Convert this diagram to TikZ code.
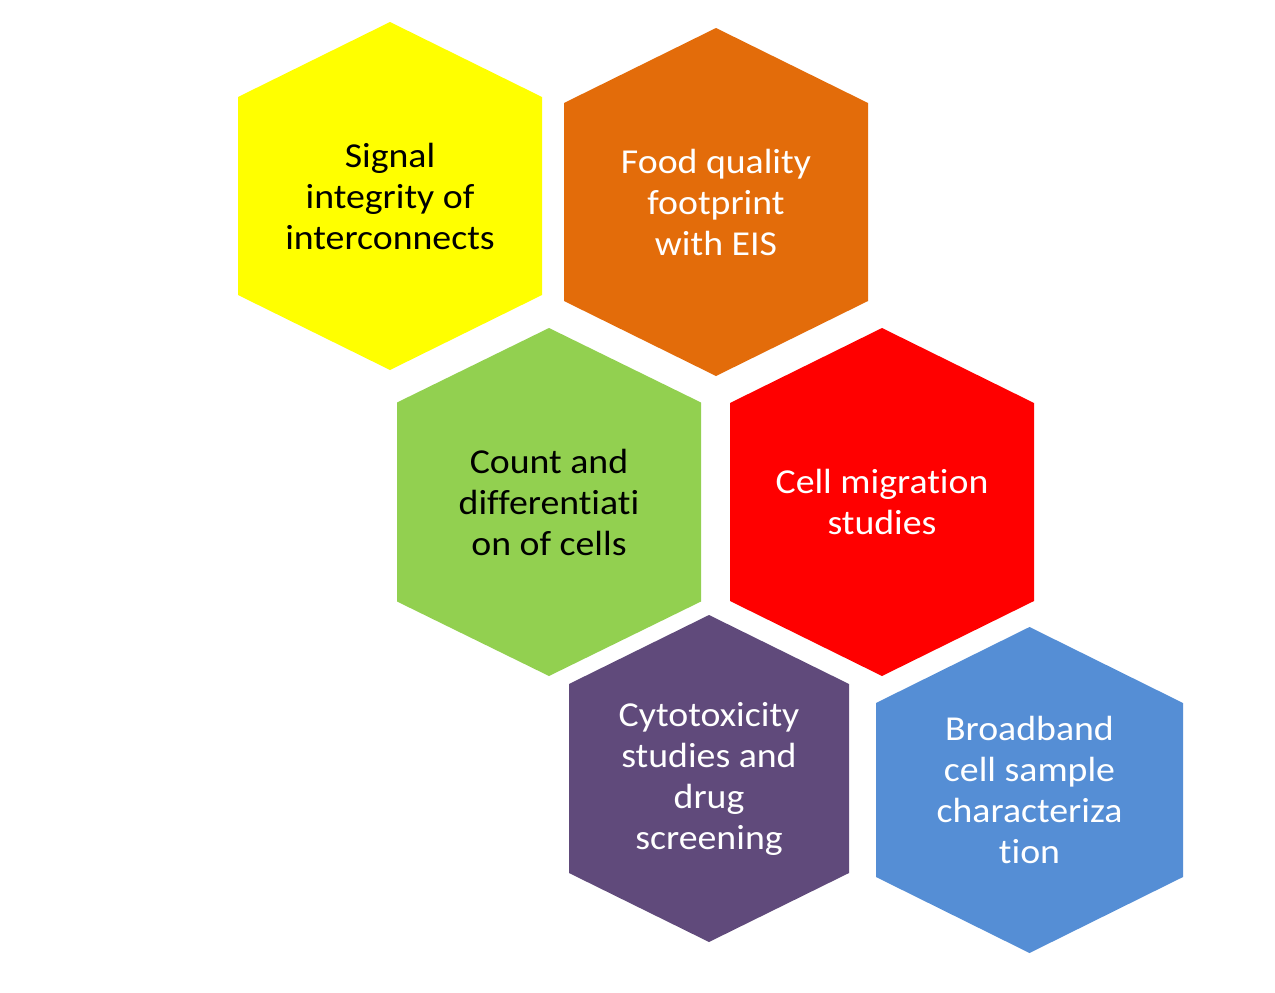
\documentclass[tikz,border=0pt]{standalone}
\usepackage{fontspec}
\setmainfont{Carlito}[Ligatures={NoCommon}, FakeStretch=1.08]
\definecolor{hexyellow}{HTML}{FFFF00}
\definecolor{hexorange}{HTML}{E36C0A}
\definecolor{hexgreen}{HTML}{92D050}
\definecolor{hexred}{HTML}{FF0000}
\definecolor{hexpurple}{HTML}{604A7B}
\definecolor{hexblue}{HTML}{558ED5}
\tikzset{
  celltext/.style={align=center, inner sep=0pt,
    font=\fontsize{35}{41}\selectfont}
}
% #1 name, #2 cx, #3 cy, #4 half width, #5 half height to apex,
% #6 half height of the vertical sides, #7 fill, #8 text colour, #9 text
\newcommand\hexcell[9]{%
  \begin{scope}[shift={(#2,#3)}]
    \fill[#7] (0,-#5) -- (#4,-#6) -- (#4,#6) -- (0,#5) -- (-#4,#6) -- (-#4,-#6) -- cycle;
    \node[celltext, text=#8] (#1) at (0,0) {#9};
  \end{scope}}
\begin{document}
\begin{tikzpicture}[x=1pt, y=-1pt]
  \useasboundingbox[fill=white] (0,0) rectangle (1275,993);
  \hexcell{signal}{390}{196}{152}{174}{99}{hexyellow}{black}{Signal\\integrity of\\interconnects}
  \hexcell{food}{716}{202}{152}{174}{99}{hexorange}{white}{Food quality\\footprint\\with EIS}
  \hexcell{count}{549}{502}{152}{174}{99.5}{hexgreen}{black}{Count and\\differentiati\\on of cells}
  \hexcell{migration}{882}{502}{152}{174}{99}{hexred}{white}{Cell migration\\studies}
  \hexcell{cyto}{709}{778.5}{140}{163.5}{94.5}{hexpurple}{white}{Cytotoxicity\\studies and\\drug\\screening}
  \hexcell{broadband}{1029.5}{790}{153.5}{163}{87}{hexblue}{white}{Broadband\\cell sample\\characteriza\\tion}
\end{tikzpicture}
\end{document}
